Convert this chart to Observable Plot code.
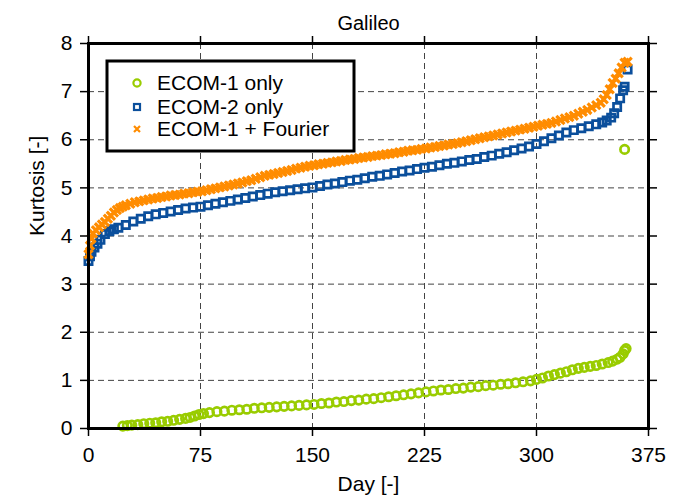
<!DOCTYPE html>
<html><head><meta charset="utf-8">
<script src="https://cdn.jsdelivr.net/npm/d3@7"></script>
<script src="https://cdn.jsdelivr.net/npm/@observablehq/plot@0.6"></script>
<style>body{margin:0;background:#fff}</style>
</head><body><div id="chart"></div>
<script>
const chartTitle = "Galileo";
const xLabel = "Day [-]";
const yLabel = "Kurtosis [-]";
const xTicks = [0, 75, 150, 225, 300, 375];
const yTicks = [0, 1, 2, 3, 4, 5, 6, 7, 8];
const seriesNames = ["ECOM-1 only", "ECOM-2 only", "ECOM-1 + Fourier"];
const seriesColors = ["#99cc00", "#0b4f9c", "#ff8c00"];

const ecom1Days = [23,26,29,33,37,41,45,49,53,57,61,65,68,71,74,77,81,86,91,96,101,106,111,116,121,126,131,136,141,146,151,156,161,166,171,176,181,186,191,196,201,206,211,216,221,226,231,236,241,246,251,256,261,266,271,276,281,286,291,296,300,304,308,312,316,320,324,328,332,336,340,344,348,351,354,356,358,359,360,359];
const ecom1Kurt = [0.05,0.06,0.07,0.08,0.10,0.11,0.12,0.14,0.15,0.17,0.19,0.21,0.23,0.26,0.29,0.31,0.33,0.35,0.36,0.38,0.39,0.40,0.42,0.43,0.44,0.45,0.46,0.47,0.48,0.49,0.50,0.52,0.53,0.55,0.56,0.58,0.59,0.61,0.62,0.64,0.66,0.68,0.70,0.72,0.74,0.76,0.78,0.80,0.81,0.83,0.84,0.86,0.87,0.89,0.90,0.92,0.93,0.95,0.97,0.99,1.02,1.05,1.09,1.12,1.15,1.18,1.22,1.25,1.27,1.29,1.31,1.34,1.37,1.40,1.44,1.48,1.55,1.62,1.66,5.80];

const ecom2Days = [0,1,2,4,6,8,11,14,17,20,25,30,35,40,45,50,55,60,65,70,75,80,85,90,95,100,105,110,115,120,125,130,135,140,145,150,155,160,165,170,175,180,185,190,195,200,205,210,215,220,225,230,235,240,245,250,255,260,265,270,275,280,285,290,295,300,305,310,315,320,325,330,335,340,344,347,350,352,354,356,358,359,361];
const ecom2Kurt = [3.48,3.58,3.67,3.76,3.84,3.92,4.04,4.10,4.14,4.17,4.23,4.30,4.36,4.41,4.45,4.48,4.51,4.54,4.57,4.59,4.61,4.64,4.67,4.70,4.73,4.76,4.79,4.82,4.85,4.88,4.91,4.93,4.95,4.97,4.99,5.01,5.04,5.07,5.09,5.12,5.15,5.17,5.20,5.23,5.25,5.28,5.31,5.34,5.36,5.39,5.42,5.44,5.47,5.50,5.52,5.55,5.58,5.60,5.64,5.67,5.71,5.74,5.78,5.82,5.86,5.91,5.97,6.03,6.09,6.15,6.20,6.24,6.28,6.32,6.36,6.40,6.46,6.55,6.68,6.86,7.03,7.10,7.46];

const fourierDays = [0,1,2,3,5,7,9,11,13,15,17,19,21,23,25,28,31,34,37,40,43,46,49,52,55,58,61,64,67,70,73,76,79,82,85,88,91,94,97,100,103,106,109,112,115,118,121,124,127,130,133,136,139,142,145,148,151,154,157,160,163,166,169,172,175,178,181,184,187,190,193,196,199,202,205,208,211,214,217,220,223,226,229,232,235,238,241,244,247,250,253,256,259,262,265,268,271,274,277,280,283,286,289,292,295,298,301,304,307,310,313,316,319,322,325,328,331,334,337,340,343,345,347,349,351,353,355,357,359,361];
const fourierKurt = [3.62,3.80,3.95,4.05,4.12,4.18,4.24,4.29,4.36,4.42,4.49,4.54,4.58,4.61,4.64,4.67,4.70,4.72,4.74,4.76,4.78,4.79,4.81,4.82,4.84,4.85,4.86,4.88,4.89,4.91,4.92,4.93,4.95,4.97,4.99,5.01,5.03,5.05,5.07,5.09,5.11,5.14,5.16,5.19,5.22,5.25,5.27,5.29,5.31,5.33,5.35,5.37,5.40,5.42,5.44,5.46,5.47,5.49,5.50,5.52,5.53,5.55,5.56,5.58,5.59,5.60,5.62,5.63,5.64,5.66,5.67,5.68,5.70,5.71,5.72,5.74,5.75,5.77,5.78,5.79,5.81,5.82,5.84,5.85,5.87,5.88,5.90,5.91,5.93,5.95,5.97,5.99,6.01,6.03,6.05,6.07,6.09,6.11,6.13,6.15,6.17,6.19,6.21,6.23,6.25,6.27,6.29,6.31,6.33,6.35,6.38,6.41,6.44,6.47,6.50,6.54,6.58,6.62,6.67,6.72,6.77,6.84,6.93,7.05,7.18,7.27,7.38,7.50,7.60,7.62];

const toRows = (days, vals) => days.map((d, i) => ({day: d, k: vals[i]}));
const ecom1 = toRows(ecom1Days, ecom1Kurt);
const ecom2 = toRows(ecom2Days, ecom2Kurt);
const fourier = toRows(fourierDays, fourierKurt);

const FONT = "'Liberation Sans', Arial, Helvetica, sans-serif";
const FS = 21;
const gridStyle = {stroke: "#444", strokeOpacity: 1, strokeWidth: 1, strokeDasharray: "6,4"};

const plot = Plot.plot({
  width: 676,
  height: 501,
  marginLeft: 88,
  marginRight: 28,
  marginTop: 43,
  marginBottom: 73,
  style: {fontFamily: FONT, fontSize: FS + "px", color: "#000", background: "#fff"},
  x: {domain: [0, 375]},
  y: {domain: [0, 8]},
  marks: [
    Plot.gridX(xTicks, gridStyle),
    Plot.gridY(yTicks, gridStyle),
    Plot.dot(ecom1, {x: "day", y: "k", r: 4.2, symbol: "circle", stroke: seriesColors[0], strokeWidth: 2.7, fill: "none"}),
    Plot.dot(ecom2, {x: "day", y: "k", r: 4.1, symbol: "square", stroke: seriesColors[1], strokeWidth: 2.7, fill: "none"}),
    Plot.dot(fourier, {x: "day", y: "k", r: 3.8, symbol: "times", stroke: seriesColors[2], strokeWidth: 3.2}),
    Plot.frame({stroke: "#000", strokeWidth: 3}),
    Plot.axisX(xTicks, {anchor: "bottom", tickSize: 8, tickPadding: 11, strokeWidth: 1.5, label: null, fontSize: FS}),
    Plot.axisX(xTicks, {anchor: "top", tickSize: 8, tickFormat: () => "", strokeWidth: 1.5, label: null}),
    Plot.axisY(yTicks, {anchor: "left", tickSize: 8, tickPadding: 8, strokeWidth: 1.5, label: null, fontSize: FS}),
    Plot.axisY(yTicks, {anchor: "right", tickSize: 8, tickFormat: () => "", strokeWidth: 1.5, label: null}),
    Plot.text([chartTitle], {text: d => d, frameAnchor: "top", dy: -28, fontSize: 20}),
    Plot.text([xLabel], {text: d => d, frameAnchor: "bottom", dy: 62, fontSize: FS}),
    Plot.text([yLabel], {text: d => d, frameAnchor: "left", dx: -51, rotate: -90, fontSize: FS})
  ]
});

// legend box drawn into the plot's SVG
const svg = d3.select(plot);
const lg = svg.append("g").attr("transform", "translate(107,61)");
lg.append("rect").attr("width", 247).attr("height", 90).attr("fill", "#fff").attr("stroke", "#000").attr("stroke-width", 3);
const rowY = [22, 46, 68];
seriesNames.forEach((name, i) => {
  const cx = 30, cy = rowY[i];
  if (i === 0) lg.append("circle").attr("cx", cx).attr("cy", cy).attr("r", 3.6).attr("fill", "none").attr("stroke", seriesColors[0]).attr("stroke-width", 2.2);
  if (i === 1) lg.append("rect").attr("x", cx - 3).attr("y", cy - 3).attr("width", 6).attr("height", 6).attr("fill", "none").attr("stroke", seriesColors[1]).attr("stroke-width", 2.2);
  if (i === 2) lg.append("path").attr("d", `M${cx-3},${cy-3}L${cx+3},${cy+3}M${cx-3},${cy+3}L${cx+3},${cy-3}`).attr("stroke", seriesColors[2]).attr("stroke-width", 2.2);
  lg.append("text").attr("x", 50).attr("y", cy).attr("dy", "0.35em").attr("text-anchor", "start").attr("font-family", FONT).attr("font-size", FS).attr("fill", "#000").text(name);
});

document.getElementById("chart").appendChild(plot);
</script>
</body></html>
